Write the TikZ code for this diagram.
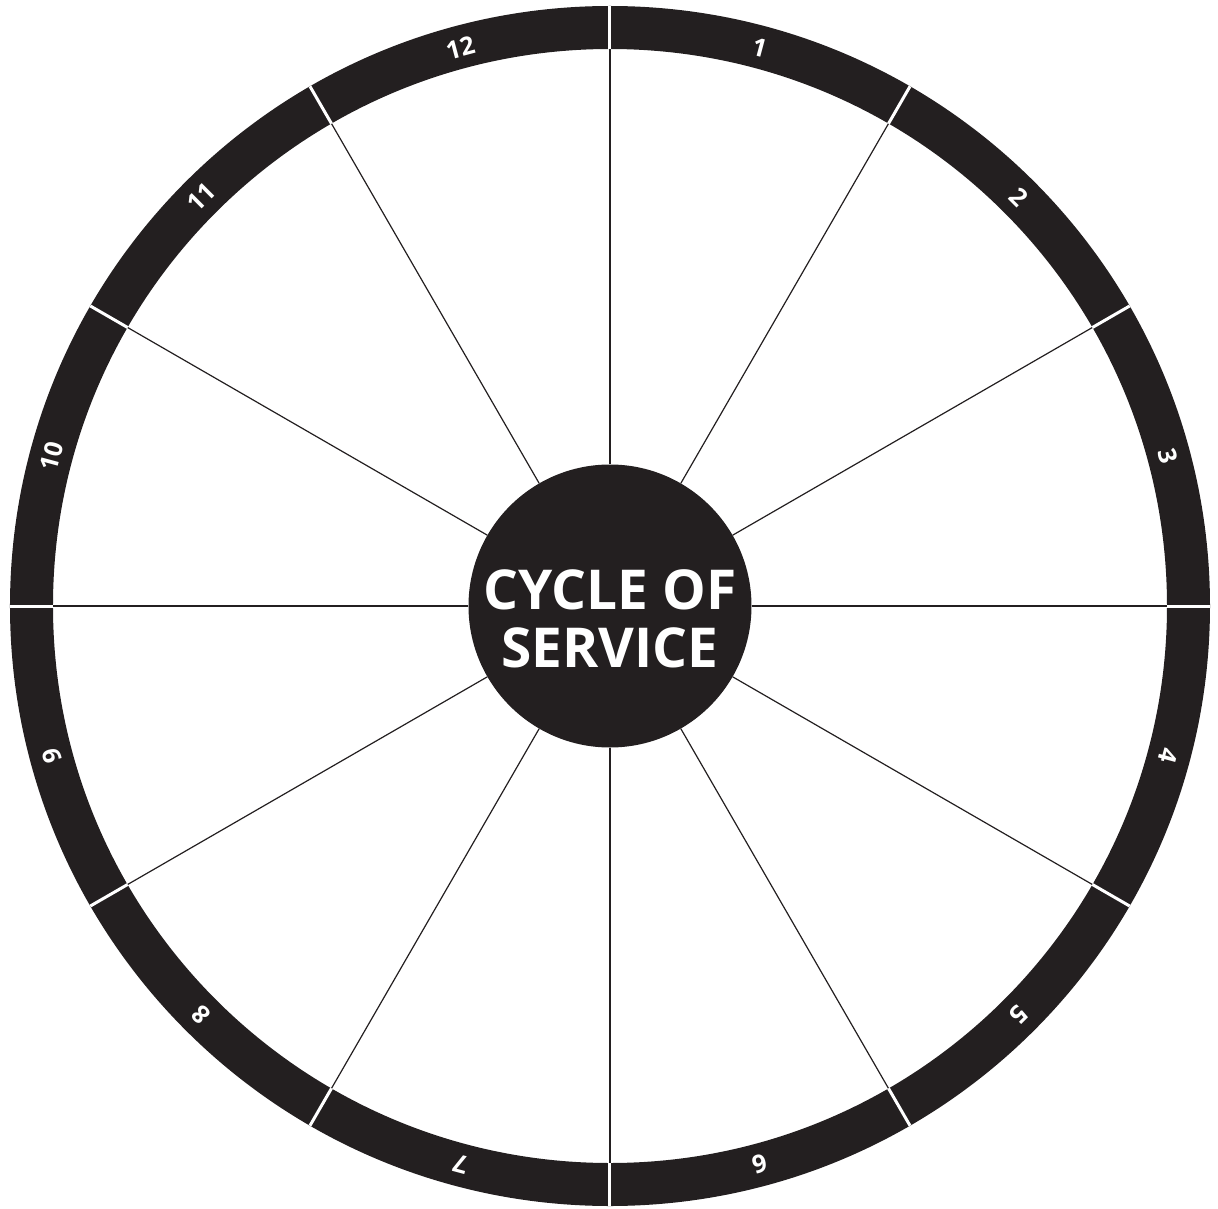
\documentclass[tikz,border=0pt]{standalone}
\usepackage{fontspec}
\setsansfont[Numbers=Lining]{Open Sans}
\definecolor{ink}{HTML}{231F20}

\begin{document}
\begin{tikzpicture}[x=1pt, y=1pt,
    hub/.style={circle, fill=ink, minimum size=283pt, inner sep=0pt},
    title/.style={text=white, align=center, inner sep=0pt,
                  font=\sffamily\bfseries\fontsize{55}{58}\selectfont},
    spoke/.style={draw=ink, line width=1.2pt},
    tick/.style={draw=white, line width=3pt},
    num/.style={text=white, inner sep=0pt,
                font=\sffamily\bfseries\fontsize{25}{25}\selectfont}]
  \useasboundingbox (-610pt,-602pt) rectangle (608pt,606pt);
  % outer ring
  \fill[ink, even odd rule] (0,0) circle[radius=600pt] (0,0) circle[radius=557pt];
  \node[hub] (hub) at (0,0) {};
  \node[title] (title) at ([yshift=-13pt]hub.center) {CYCLE OF\\SERVICE};
  \foreach \a in {0,30,...,330} {
    \coordinate (rim-\a) at (\a:557pt);
    \coordinate (edge-\a) at (\a:600pt);
    \draw[spoke] (hub.\a) -- (rim-\a);
    \draw[tick] (rim-\a) -- (edge-\a);
  }
  % segment numbers
  \foreach \i in {1,...,12}
    \node[num, rotate={15-30*\i}] (num-\i) at ({105-30*\i}:578pt) {\i};
\end{tikzpicture}
\end{document}
